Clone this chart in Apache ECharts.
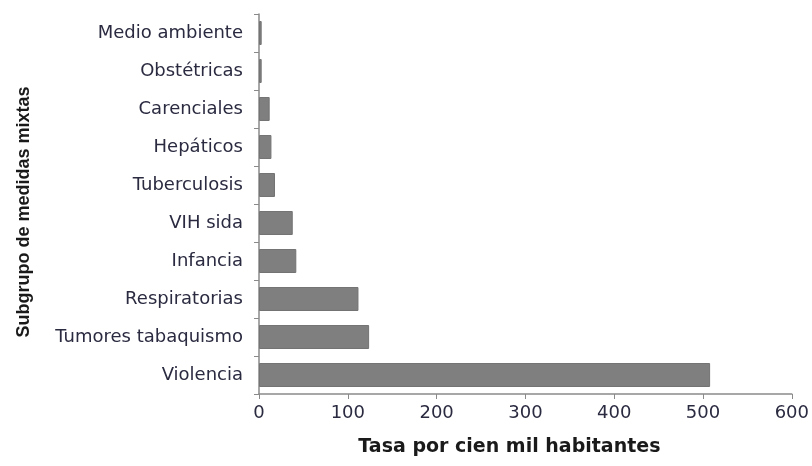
<!DOCTYPE html>
<html>
<head>
<meta charset="utf-8">
<script src="https://cdn.jsdelivr.net/npm/echarts@6/dist/echarts.min.js"></script>
<style>html,body{margin:0;padding:0;background:#fff;}#c{width:812px;height:466px;}</style>
</head>
<body>
<div id="c"></div>
<script>
const categories = ['Violencia','Tumores tabaquismo','Respiratorias','Infancia','VIH sida','Tuberculosis','Hepáticos','Carenciales','Obstétricas','Medio ambiente'];
const values = [508, 124, 112, 42, 38, 18, 14, 12, 3, 3];
const xTicks = [0, 100, 200, 300, 400, 500, 600];

const chart = echarts.init(document.getElementById('c'));
chart.setOption({
  animation: false,
  grid: { left: 259, right: 20, top: 14, bottom: 72, containLabel: false },
  xAxis: {
    type: 'value', min: xTicks[0], max: xTicks[xTicks.length-1], interval: 100,
    name: 'Tasa por cien mil habitantes', nameLocation: 'middle', nameGap: 44,
    nameTextStyle: { fontFamily: 'DejaVu Sans', fontWeight: 'bold', fontSize: 19, color: '#1a1a1a', padding: [0, 32, 0, 0] },
    axisLine: { show: true, lineStyle: { color: '#8a8a8a', width: 1.5 } },
    axisTick: { show: true, length: 5, lineStyle: { color: '#8a8a8a' } },
    axisLabel: { fontFamily: 'DejaVu Sans', fontSize: 18, color: '#2a2a40', margin: 10 },
    splitLine: { show: false }
  },
  yAxis: {
    type: 'category', data: categories,
    name: 'Subgrupo de medidas mixtas', nameLocation: 'middle', nameGap: 226, nameRotate: 90,
    nameTextStyle: { fontFamily: 'Liberation Sans', fontWeight: 'bold', fontSize: 18, color: '#1a1a1a', padding: [0, 16, 0, 0] },
    axisLine: { show: true, lineStyle: { color: '#8a8a8a', width: 1.5 } },
    axisTick: { show: true, length: 5, lineStyle: { color: '#8a8a8a' } },
    axisLabel: { fontFamily: 'DejaVu Sans', fontSize: 18, color: '#2a2a40', margin: 16 }
  },
  series: [{
    type: 'bar', data: values, barCategoryGap: '37%',
    itemStyle: { color: '#7f7f7f', borderColor: '#737373', borderWidth: 1 }
  }]
});
</script>
</body>
</html>
